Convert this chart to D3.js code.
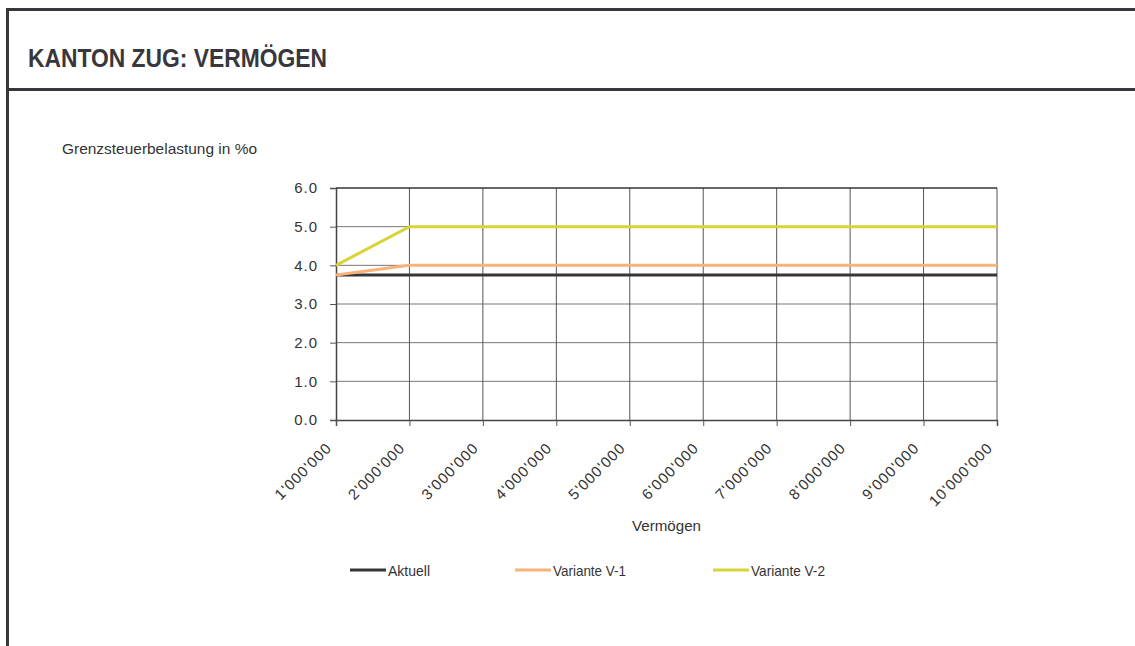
<!DOCTYPE html>
<html>
<head>
<meta charset="utf-8">
<title>Kanton Zug: Vermögen</title>
<style>
  body { margin: 0; background: #fff; }
  text { font-family: 'Liberation Sans', Arial, sans-serif; fill: #333; }
</style>
</head>
<body>
<div id="chart"></div>
<script src="https://cdn.jsdelivr.net/npm/d3@7/dist/d3.min.js"></script>
<script>
// data
var categories = ["1'000'000", "2'000'000", "3'000'000", "4'000'000", "5'000'000",
                  "6'000'000", "7'000'000", "8'000'000", "9'000'000", "10'000'000"];
var aktuell  = [3.75, 3.75, 3.75, 3.75, 3.75, 3.75, 3.75, 3.75, 3.75, 3.75];
var varianteV1 = [3.75, 4.0, 4.0, 4.0, 4.0, 4.0, 4.0, 4.0, 4.0, 4.0];
var varianteV2 = [4.0, 5.0, 5.0, 5.0, 5.0, 5.0, 5.0, 5.0, 5.0, 5.0];
var yTicks = [0, 1, 2, 3, 4, 5, 6];
var seriesNames = ['Aktuell', 'Variante V-1', 'Variante V-2'];

(function() {
  'use strict';
  var width = 1135, height = 646;
  var left = 336, right = 997, top = 188, bottom = 420;

  var series = [
    { name: seriesNames[0], values: aktuell, color: '#363639' },
    { name: seriesNames[1], values: varianteV1, color: '#f8b377' },
    { name: seriesNames[2], values: varianteV2, color: '#d8d436' }
  ];

  var svg = d3.select('#chart').append('svg')
    .attr('width', width)
    .attr('height', height);

  // frame
  var frame = '#38383c';
  svg.append('rect').attr('x', 6).attr('y', 8).attr('width', 3).attr('height', height - 8).attr('fill', frame);
  svg.append('rect').attr('x', 6).attr('y', 8).attr('width', width - 6).attr('height', 3).attr('fill', frame);
  svg.append('rect').attr('x', 6).attr('y', 88).attr('width', width - 6).attr('height', 3).attr('fill', frame);

  svg.append('text')
    .attr('x', 28).attr('y', 67)
    .attr('font-size', 26).attr('font-weight', 'bold')
    .attr('textLength', 299).attr('lengthAdjust', 'spacingAndGlyphs')
    .style('fill', '#38383c')
    .text('KANTON ZUG: VERMÖGEN');

  svg.append('text')
    .attr('x', 62).attr('y', 154)
    .attr('font-size', 15)
    .attr('textLength', 195).attr('lengthAdjust', 'spacingAndGlyphs')
    .text('Grenzsteuerbelastung in %o');

  var x = d3.scalePoint().domain(categories).range([left, right]);
  var y = d3.scaleLinear().domain([0, 6]).range([bottom, top]);

  // horizontal gridlines
  svg.append('g').selectAll('line').data(yTicks.slice(1, -1)).enter().append('line')
    .attr('x1', left).attr('x2', right)
    .attr('y1', function(d) { return y(d); }).attr('y2', function(d) { return y(d); })
    .attr('stroke', '#777').attr('stroke-width', 1);

  // vertical gridlines
  svg.append('g').selectAll('line').data(categories.slice(1)).enter().append('line')
    .attr('x1', function(d) { return x(d); }).attr('x2', function(d) { return x(d); })
    .attr('y1', top).attr('y2', bottom)
    .attr('stroke', '#555').attr('stroke-width', 1);

  // plot border top
  svg.append('line').attr('x1', left).attr('x2', right).attr('y1', top).attr('y2', top)
    .attr('stroke', '#333').attr('stroke-width', 1.5);

  // axes
  var yAxis = svg.append('g')
    .attr('transform', 'translate(' + left + ',0)')
    .call(d3.axisLeft(y).tickValues(yTicks).tickSize(6).tickPadding(12).tickFormat(d3.format('.1f')));
  yAxis.selectAll('text').attr('font-size', 15).style('font-family', null)
    .attr('letter-spacing', 1);

  var xAxis = svg.append('g')
    .attr('transform', 'translate(0,' + bottom + ')')
    .call(d3.axisBottom(x).tickSize(6));
  xAxis.selectAll('text')
    .attr('font-size', 15).style('font-family', null)
    .attr('letter-spacing', 1)
    .attr('text-anchor', 'end')
    .attr('dy', null)
    .attr('y', 0)
    .attr('transform', 'translate(-4,29) rotate(-45)');

  svg.selectAll('.domain').attr('stroke', '#444').attr('stroke-width', 1.5);
  svg.selectAll('.tick line').attr('stroke', '#555');

  svg.append('text')
    .attr('x', (left + right) / 2).attr('y', 531)
    .attr('text-anchor', 'middle').attr('font-size', 15)
    .attr('textLength', 69).attr('lengthAdjust', 'spacingAndGlyphs')
    .text('Vermögen');

  // lines
  var line = d3.line()
    .x(function(d, i) { return x(categories[i]); })
    .y(function(d) { return y(d); });

  svg.append('g').selectAll('path').data(series).enter().append('path')
    .attr('d', function(d) { return line(d.values); })
    .attr('fill', 'none')
    .attr('stroke', function(d) { return d.color; })
    .attr('stroke-width', 3);

  // legend
  var legendX = [350, 515, 713];
  var legendLen = [42, 73, 74];
  var legend = svg.selectAll('.legend').data(series).enter().append('g')
    .attr('class', 'legend')
    .attr('transform', function(d, i) { return 'translate(' + legendX[i] + ',570)'; });
  legend.append('line')
    .attr('x1', 0).attr('x2', 36)
    .attr('stroke', function(d) { return d.color; })
    .attr('stroke-width', 3);
  legend.append('text')
    .attr('x', 38).attr('y', 6)
    .attr('font-size', 15)
    .attr('textLength', function(d, i) { return legendLen[i]; })
    .attr('lengthAdjust', 'spacingAndGlyphs')
    .text(function(d) { return d.name; });
})();
</script>
</body>
</html>
